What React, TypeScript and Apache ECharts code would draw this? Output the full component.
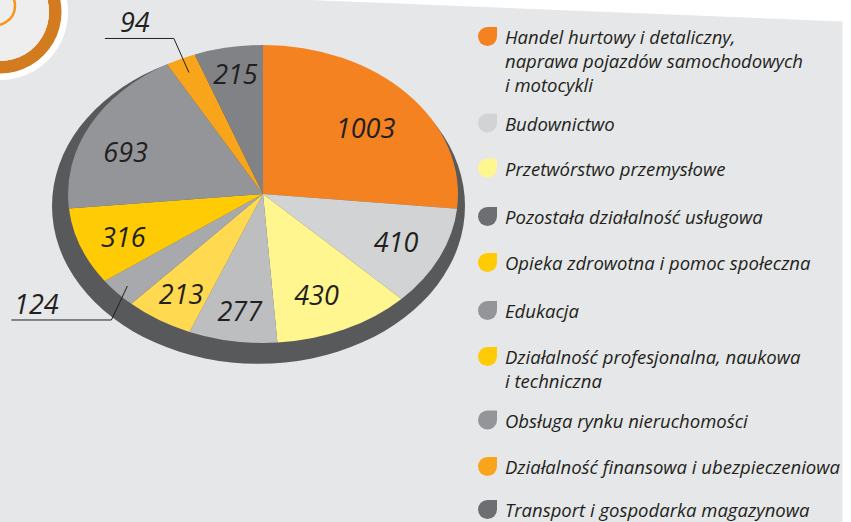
import React, { useEffect, useRef } from "react";
import * as echarts from "echarts";

// ---------- data ----------
const categories = [
  "Handel hurtowy i detaliczny, naprawa pojazdów samochodowych i motocykli",
  "Budownictwo",
  "Przetwórstwo przemysłowe",
  "Pozostała działalność usługowa",
  "Opieka zdrowotna i pomoc społeczna",
  "Edukacja",
  "Działalność profesjonalna, naukowa i techniczna",
  "Obsługa rynku nieruchomości",
  "Działalność finansowa i ubezpieczeniowa",
  "Transport i gospodarka magazynowa",
];
const values = [1003, 410, 430, 277, 213, 124, 316, 693, 94, 215];
const legendLines = [
  ["Handel hurtowy i detaliczny,", "naprawa pojazdów samochodowych", "i motocykli"],
  ["Budownictwo"],
  ["Przetwórstwo przemysłowe"],
  ["Pozostała działalność usługowa"],
  ["Opieka zdrowotna i pomoc społeczna"],
  ["Edukacja"],
  ["Działalność profesjonalna, naukowa", "i techniczna"],
  ["Obsługa rynku nieruchomości"],
  ["Działalność finansowa i ubezpieczeniowa"],
  ["Transport i gospodarka magazynowa"],
];

// ---------- styles ----------
const sliceColors = ["#f58220", "#d1d3d4", "#fff68f", "#bcbec0", "#ffd94f", "#a7a9ac", "#ffcb05", "#939598", "#f8a51b", "#808285"];
const legendColors = ["#f58220", "#d1d3d4", "#fff68f", "#6d6e71", "#ffcb05", "#939598", "#ffcb05", "#939598", "#f8a51b", "#6d6e71"];

// ---------- layout ----------
const W = 851;
const H = 522;
const CX = 263;
const CY = 194;
const R = 195;
const K = 0.764; // vertical squash of the pie
const LH = 24;
const legendCenters = [36.5, 123, 168, 216.5, 262.5, 310.5, 356.5, 420, 466.5, 509.5];
const outsideLabels: Record<number, { r: number; dx: number; dy: number; len: number; tx: number }> = {
  8: { r: 0.9, dx: -15, dy: -34, len: 69, tx: 30 },
  5: { r: 0.93, dx: -16, dy: 34, len: 100, tx: 25 },
};
const labelNudge: Record<number, [number, number]> = {
  0: [-8, 10],
  1: [-2, -1],
  2: [-9, -3],
  3: [0, 4],
  4: [-2, 3],
  6: [0, 2],
  7: [-5, 10],
  9: [-1, -8],
};
const FONT = "'Open Sans', sans-serif";
const TEXT = "#231f20";
const ICON = "path://M10,0 L20,0 L20,10 A10,10,0,1,1,10,0 Z";

export default function App() {
  const bgRef = useRef<HTMLDivElement>(null);
  const pieRef = useRef<HTMLDivElement>(null);
  const topRef = useRef<HTMLDivElement>(null);

  useEffect(() => {
    document.body.style.margin = "0";
    const bg = echarts.init(bgRef.current!, undefined, { renderer: "svg" });
    const pie = echarts.init(pieRef.current!, undefined, { renderer: "svg" });
    const top = echarts.init(topRef.current!, undefined, { renderer: "svg" });

    const total = values.reduce((a, b) => a + b, 0);
    const midAngles: number[] = [];
    let cum = 0;
    values.forEach((v) => {
      midAngles.push(((cum + v / 2) / total) * Math.PI * 2);
      cum += v;
    });

    bg.setOption({
      animation: false,
      backgroundColor: "#ffffff",
      graphic: [
        { type: "polygon", z: 1, silent: true, shape: { points: [[0, 0], [310, 0], [842.5, 21.5], [842.5, H], [0, H]] }, style: { fill: "#e6e7e8" } },
        { type: "circle", z: 2, silent: true, shape: { cx: 0, cy: 12, r: 68 }, style: { fill: "#ffffff" } },
        { type: "ring", z: 3, silent: true, shape: { cx: 0, cy: 12, r: 61.5, r0: 49 }, style: { fill: "#d27c1f" } },
        { type: "circle", z: 3, silent: true, shape: { cx: 0, cy: 12, r: 49 }, style: { fill: "#eeeeee" } },
        { type: "circle", z: 4, silent: true, shape: { cx: -4, cy: 6, r: 19 }, style: { fill: "none", stroke: "#f7941d", lineWidth: 2.5 } },
      ],
    });

    pie.setOption({
      animation: false,
      backgroundColor: "transparent",
      graphic: [
        { type: "circle", z: 0, silent: true, shape: { cx: 258.5, cy: 206 / K, r: 206.5 }, style: { fill: "#58595b" } },
      ],
      series: [
        {
          type: "pie",
          z: 2,
          center: [CX, CY / K],
          radius: R,
          startAngle: 90,
          clockwise: true,
          silent: true,
          label: { show: false },
          labelLine: { show: false },
          emphasis: { disabled: true },
          itemStyle: { borderWidth: 0 },
          data: values.map((v, i) => ({ name: categories[i], value: v, itemStyle: { color: sliceColors[i] } })),
        },
      ],
    });

    top.setOption({
      animation: false,
      backgroundColor: "transparent",
      legend: categories.map((name, i) => {
        const n = legendLines[i].length;
        return {
          left: 478,
          top: legendCenters[i] - ((2 * n - 1) * LH) / 2,
          orient: "vertical",
          padding: 0,
          itemWidth: 19,
          itemHeight: 19,
          selectedMode: false,
          icon: ICON,
          formatter: (nm: string) => {
            const lines = legendLines[categories.indexOf(nm)];
            return "\n".repeat(lines.length - 1) + lines.join("\n");
          },
          textStyle: {
            fontFamily: FONT,
            fontStyle: "italic",
            fontSize: 18.5,
            color: TEXT,
            lineHeight: LH,
            padding: [0, 0, 0, 3],
          },
          data: [{ name, itemStyle: { color: legendColors[i] } }],
        };
      }),
      series: [
        {
          type: "pie",
          center: [CX, CY],
          radius: [R * 0.5, R],
          startAngle: 90,
          clockwise: true,
          silent: true,
          avoidLabelOverlap: false,
          emphasis: { disabled: true },
          itemStyle: { color: "rgba(0,0,0,0)", borderWidth: 0 },
          label: {
            show: true,
            position: "inside",
            formatter: "{c}",
            color: TEXT,
            fontFamily: FONT,
            fontStyle: "italic",
            fontSize: 27,
            textBorderWidth: 0,
          },
          labelLine: { show: false },
          data: values.map((v, i) =>
            outsideLabels[i]
              ? {
                  name: categories[i],
                  value: v,
                  label: { position: "outside" },
                  labelLine: { show: true, length: 10, length2: 10, lineStyle: { color: TEXT, width: 1 } },
                }
              : { name: categories[i], value: v }
          ),
          labelLayout: (p: any) => {
            const i = p.dataIndex;
            const o = outsideLabels[i];
            if (o) {
              const th = midAngles[i];
              const sx = CX + R * o.r * Math.sin(th);
              const sy = CY - R * o.r * Math.cos(th) * K;
              const ex = sx + o.dx;
              const ey = sy + o.dy;
              const hx = ex - o.len;
              return {
                x: hx + o.tx,
                y: ey - 3,
                align: "center",
                verticalAlign: "bottom",
                labelLinePoints: [[sx, sy], [ex, ey], [hx, ey]],
              };
            }
            const r = p.labelRect;
            const nd = labelNudge[i] || [0, 0];
            const lx = r.x + r.width / 2;
            const ly = r.y + r.height / 2;
            return { x: lx + nd[0], y: CY + (ly - CY) * K + nd[1] };
          },
        },
      ],
    });

    return () => {
      bg.dispose();
      pie.dispose();
      top.dispose();
    };
  }, []);

  return (
    <div style={{ position: "fixed", left: 0, top: 0, width: W, height: H, overflow: "hidden" }}>
      <div ref={bgRef} style={{ position: "absolute", left: 0, top: 0, width: W, height: H }} />
      <div
        ref={pieRef}
        style={{
          position: "absolute",
          left: 0,
          top: 0,
          width: W,
          height: H / K,
          transform: `scaleY(${K})`,
          transformOrigin: "0 0",
        }}
      />
      <div ref={topRef} style={{ position: "absolute", left: 0, top: 0, width: W, height: H }} />
    </div>
  );
}
